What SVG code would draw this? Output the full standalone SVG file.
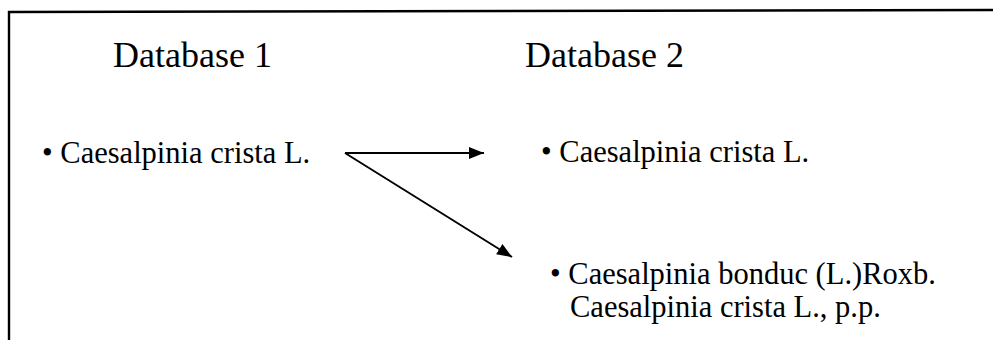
<svg xmlns="http://www.w3.org/2000/svg" width="993" height="340" viewBox="0 0 993 340">
  <style>
    .title { font-family: "Liberation Serif", "Times New Roman", serif; font-size: 36px; fill: #000; }
    .item { font-family: "Liberation Serif", "Times New Roman", serif; font-size: 30.5px; fill: #000; }
    .frame { fill: none; stroke: #000; stroke-width: 2.4; }
    .link { fill: none; stroke: #000; stroke-width: 1.9; }
  </style>
  <defs>
    <marker id="arrow" markerUnits="userSpaceOnUse" markerWidth="16" markerHeight="14" refX="15" refY="6" orient="auto">
      <path d="M0,0 L15,6 L0,12 z" fill="#000"/>
    </marker>
  </defs>

  <rect width="993" height="340" fill="#fff"/>

  <!-- open frame: top edge and left edge only -->
  <path class="frame" d="M9,340 L9,12 L993,10"/>

  <g id="db1-title">
    <text class="title" x="113" y="67">Database 1</text>
  </g>
  <g id="db2-title">
    <text class="title" x="525" y="67">Database 2</text>
  </g>

  <g id="db1-crista">
    <text class="item" x="42" y="163">• Caesalpinia crista L.</text>
  </g>
  <g id="db2-crista">
    <text class="item" x="541" y="162">• Caesalpinia crista L.</text>
  </g>
  <g id="db2-bonduc">
    <text class="item" x="550" y="284">• Caesalpinia bonduc (L.)Roxb.</text>
    <text class="item" x="570" y="317">Caesalpinia crista L., p.p.</text>
  </g>

  <g id="connectors">
    <line class="link" x1="345" y1="153" x2="484" y2="153" marker-end="url(#arrow)"/>
    <line class="link" x1="345" y1="153" x2="512" y2="257" marker-end="url(#arrow)"/>
  </g>
</svg>
